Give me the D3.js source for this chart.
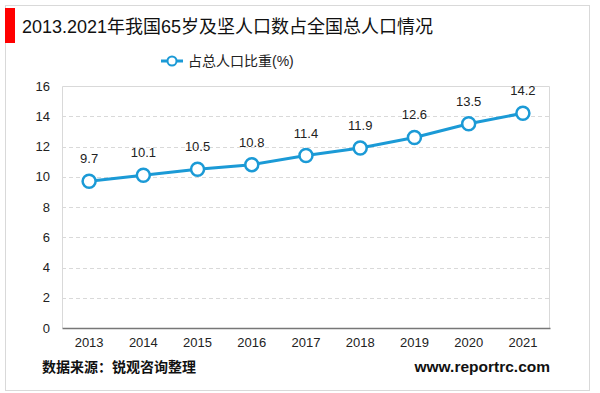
<!DOCTYPE html>
<html><head><meta charset="utf-8">
<script src="https://cdn.jsdelivr.net/npm/d3@7/dist/d3.min.js"></script>
<style>body{margin:0;background:#fff;} svg{display:block;font-family:"Liberation Sans",Arial,"Noto Sans CJK SC",sans-serif;}</style>
</head><body>
<svg id="c" width="600" height="393"></svg>
<script>
const years = ["2013","2014","2015","2016","2017","2018","2019","2020","2021"];
const shares = [9.7,10.1,10.5,10.8,11.4,11.9,12.6,13.5,14.2];
const yTicks = [0,2,4,6,8,10,12,14,16];
const title = "2013.2021年我国65岁及坚人口数占全国总人口情况";
const seriesName = "占总人口比重(%)";
const source = "数据来源：锐观咨询整理";
const site = "www.reportrc.com";

const svg = d3.select("#c");
const color = "#1b9ad6";
// outer frame
svg.append("rect").attr("x",5.5).attr("y",5.5).attr("width",584).attr("height",385)
  .attr("fill","#fff").attr("stroke","#d9d9d9");
svg.append("rect").attr("x",5).attr("y",8).attr("width",10).attr("height",35).attr("fill","#ff0000");
svg.append("text").attr("x",22).attr("y",33).attr("font-size",18).attr("fill","#111").text(title);

const m = {l:62,r:550,t:86,b:328};
const x = d3.scaleBand().domain(years).range([m.l,m.r]);
const y = d3.scaleLinear().domain([0,16]).range([m.b,m.t]);

// plot border
svg.append("path").attr("d",`M${m.l+0.5},${m.b}V${m.t+0.5}H${m.r-0.5}V${m.b}`)
  .attr("fill","none").attr("stroke","#d9d9d9");
// grid
svg.append("g").selectAll("line").data(yTicks.filter(t=>t>0&&t<16)).join("line")
  .attr("x1",m.l).attr("x2",m.r).attr("y1",d=>Math.round(y(d))+0.5).attr("y2",d=>Math.round(y(d))+0.5)
  .attr("stroke","#d9d9d9").attr("stroke-dasharray","4,3");

// y axis
const ya = svg.append("g").attr("transform",`translate(${m.l},0)`)
  .call(d3.axisLeft(y).tickValues(yTicks).tickSize(0).tickPadding(12));
ya.select(".domain").remove();
ya.selectAll("text").attr("font-size",13).attr("fill","#222").attr("font-family","Liberation Sans, Arial");
// x axis
const xa = svg.append("g").attr("transform",`translate(0,${m.b})`)
  .call(d3.axisBottom(x).tickSize(0).tickPadding(10));
xa.select(".domain").attr("stroke","#777").attr("stroke-width",1.5);
xa.selectAll("text").attr("font-size",13).attr("fill","#222").attr("font-family","Liberation Sans, Arial");

const cx = d=>x(d)+x.bandwidth()/2;
const line = d3.line().x((d,i)=>cx(years[i])).y(d=>y(d));
svg.append("path").datum(shares).attr("d",line).attr("fill","none").attr("stroke",color).attr("stroke-width",3);
svg.append("g").selectAll("circle").data(shares).join("circle")
  .attr("cx",(d,i)=>cx(years[i])).attr("cy",d=>y(d)).attr("r",6.5)
  .attr("fill","#fff").attr("stroke",color).attr("stroke-width",2.5);
svg.append("g").selectAll("text").data(shares).join("text")
  .attr("x",(d,i)=>cx(years[i])).attr("y",d=>y(d)-18).attr("text-anchor","middle")
  .attr("font-size",13).attr("fill","#222").text(d=>d.toFixed(1));

// legend
const lg = svg.append("g");
lg.append("line").attr("x1",161).attr("x2",183).attr("y1",61).attr("y2",61).attr("stroke",color).attr("stroke-width",3);
lg.append("circle").attr("cx",172).attr("cy",61).attr("r",4.5).attr("fill","#fff").attr("stroke",color).attr("stroke-width",2);
lg.append("text").attr("x",188).attr("y",66).attr("font-size",14).attr("fill","#222").text(seriesName);

svg.append("text").attr("x",42).attr("y",372).attr("font-size",14).attr("font-weight","bold").attr("fill","#111").text(source);
svg.append("text").attr("x",550).attr("y",372).attr("text-anchor","end").attr("font-size",15.5).attr("font-weight","bold").attr("fill","#111").text(site);
</script>
</body></html>
